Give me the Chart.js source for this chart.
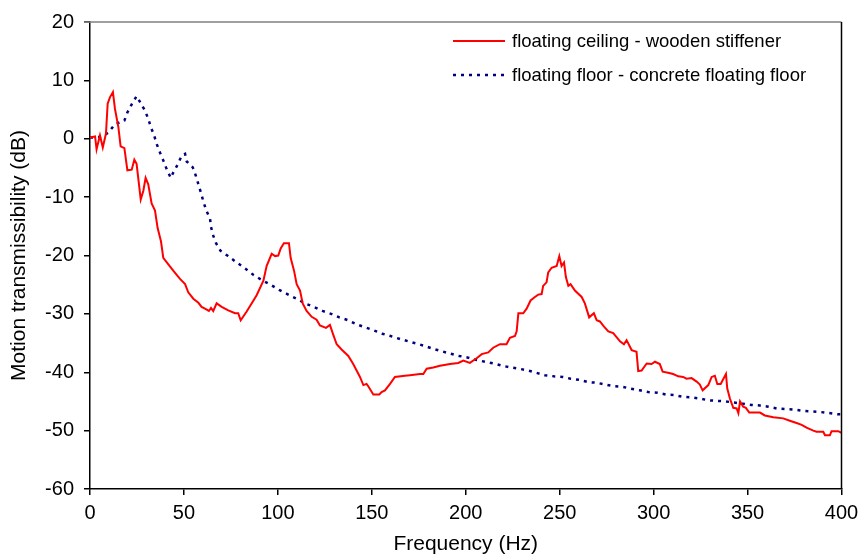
<!DOCTYPE html>
<html>
<head>
<meta charset="utf-8">
<script src="https://cdn.jsdelivr.net/npm/chart.js@4/dist/chart.umd.min.js"></script>
<style>
  html, body { margin: 0; padding: 0; background: #fff; }
  #wrap { width: 860px; height: 559px; }
</style>
</head>
<body>
<div id="wrap"><canvas id="c" width="860" height="559"></canvas></div>
<script>
// Floating ceiling (wooden stiffener): frequency (Hz) and transmissibility (dB)
const ceilingFreq = [0, 2.7, 3.5, 5.3, 6.8, 8.5, 9.4, 10.6, 12.2, 13.3, 15.1, 16.3, 18.3, 19.9, 22.2, 23.6, 24.8, 27.0, 28.4, 29.6,
  31.0, 32.8, 34.6, 36.0, 37.8, 39.0, 41.7, 44.3, 47.9, 50.6, 52.3, 55.0, 57.7, 59.4, 61.2, 63.3, 64.4, 65.6, 67.4, 70.1,
  73.6, 77.2, 78.9, 80.2, 83.4, 88.7, 92.3, 94.0, 96.7, 98.5, 100.2, 101.5, 103.2, 105.9, 106.8, 108.6, 110.0, 111.8, 113.2, 115.3,
  118.0, 120.6, 122.4, 125.6, 127.7, 129.5, 131.3, 133.9, 137.5, 140.1, 143.7, 145.5, 147.2, 148.1, 150.8, 154.0, 155.2, 157.0, 159.7, 162.3,
  167.6, 170.3, 175.6, 177.4, 179.2, 182.7, 186.3, 191.6, 196.0, 198.7, 202.2, 205.8, 208.5, 212.0, 214.6, 218.2, 221.7, 223.5, 226.2, 227.1,
  228.0, 230.6, 232.4, 234.5, 236.8, 238.6, 240.4, 241.2, 243.0, 243.9, 245.7, 248.4, 249.8, 251.0, 252.3, 253.3, 254.6, 255.8, 258.1, 261.7,
  263.4, 265.7, 268.2, 269.7, 271.4, 273.6, 275.9, 278.5, 282.1, 284.2, 285.6, 288.3, 290.9, 291.8, 293.6, 296.3, 298.9, 300.7, 303.3, 304.8,
  307.7, 310.4, 313.1, 315.7, 317.5, 320.2, 322.9, 324.6, 326.1, 329.1, 330.9, 332.6, 333.9, 335.7, 338.5, 339.2, 340.6, 342.4, 344.2, 345.1,
  346.0, 347.7, 349.1, 350.9, 356.6, 359.2, 363.7, 369.0, 372.5, 376.1, 378.8, 381.4, 385.0, 386.7, 390.3, 391.2, 393.8, 394.7, 398.3, 400];
const ceilingDb = [0.2, 0.4, -1.8, 0.6, -1.5, 0.9, 6.0, 7.1, 8.0, 5.1, 2.0, -1.3, -1.6, -5.4, -5.3, -3.6, -4.3, -10.4, -8.9, -6.7,
  -7.8, -11.1, -12.3, -15.3, -17.6, -20.4, -21.5, -22.6, -24.0, -24.9, -26.3, -27.4, -28.1, -28.8, -29.1, -29.5, -29.0, -29.5, -28.2, -28.8,
  -29.4, -29.9, -29.9, -31.1, -29.6, -26.8, -24.3, -21.8, -19.7, -20.1, -20.0, -18.8, -17.9, -17.9, -20.4, -22.6, -24.9, -26.0, -28.2, -29.5,
  -30.5, -31.0, -32.0, -32.4, -31.9, -33.6, -35.2, -36.1, -37.2, -38.6, -40.8, -42.2, -42.0, -42.4, -43.8, -43.8, -43.4, -43.1, -42.0, -40.8,
  -40.6, -40.5, -40.3, -40.3, -39.4, -39.2, -38.9, -38.6, -38.4, -38.0, -38.4, -37.6, -36.9, -36.6, -35.8, -35.2, -35.2, -34.1, -33.8, -33.0,
  -29.9, -29.9, -29.1, -27.7, -27.1, -26.7, -26.6, -25.2, -24.6, -22.9, -22.1, -21.8, -20.1, -21.8, -21.2, -23.7, -25.2, -24.9, -26.0, -27.1,
  -28.2, -30.6, -29.9, -31.1, -31.3, -32.2, -33.0, -33.3, -34.7, -35.2, -34.5, -36.2, -36.5, -39.8, -39.7, -38.5, -38.6, -38.2, -38.6, -39.9,
  -40.1, -40.3, -40.7, -40.8, -41.1, -41.0, -41.6, -42.1, -43.1, -42.2, -40.8, -40.6, -42.0, -42.0, -40.3, -42.8, -44.5, -46.1, -46.2, -47.0,
  -45.0, -45.9, -46.1, -46.9, -46.9, -47.4, -47.7, -47.9, -48.3, -48.7, -49.0, -49.5, -50.0, -50.2, -50.2, -50.8, -50.8, -50.1, -50.1, -50.4];

// Floating floor (concrete floating floor): frequency (Hz) and transmissibility (dB)
const floorFreq = [0, 5.3, 9.7, 13.3, 18.3, 19.9, 22.2, 24.8, 26.6, 29.3, 31.0, 32.5, 34.2, 35.5, 37.3, 39.0, 40.8, 43.0, 44.3, 46.7,
  48.8, 50.6, 51.5, 54.7, 56.3, 57.7, 59.0, 60.4, 61.9, 63.9, 64.4, 65.6, 67.1, 69.5, 73.5, 78.1, 82.5, 86.9, 91.4, 96.1,
  100.7, 105.5, 109.9, 114.4, 119.2, 123.8, 128.3, 132.7, 137.5, 141.9, 146.4, 150.8, 155.6, 160.0, 165.0, 169.4, 173.9, 178.3, 182.7, 187.2,
  191.6, 196.5, 201.3, 205.8, 210.2, 215.0, 219.6, 224.4, 228.4, 233.2, 237.7, 242.1, 246.9, 251.6, 255.8, 260.4, 265.2, 269.7, 274.1, 278.9,
  283.5, 287.8, 292.7, 297.1, 301.9, 306.4, 310.8, 315.4, 320.2, 324.6, 329.1, 333.9, 338.5, 342.9, 347.4, 352.2, 356.6, 361.0, 365.5, 369.9,
  374.7, 379.3, 384.1, 388.5, 393.5, 398.3, 400];
const floorDb = [0.2, 0.3, 1.0, 2.5, 3.1, 4.5, 5.9, 7.3, 6.3, 4.8, 3.4, 1.9, 0.5, -0.9, -2.4, -3.7, -5.2, -6.7, -5.8, -4.4,
  -2.9, -2.6, -3.9, -4.9, -6.3, -7.8, -9.2, -10.8, -12.3, -13.7, -15.1, -16.6, -17.9, -19.2, -20.1, -21.2, -22.2, -23.3, -24.2, -25.0,
  -25.9, -26.7, -27.4, -28.2, -28.8, -29.5, -30.0, -30.6, -31.1, -31.8, -32.3, -32.8, -33.4, -33.8, -34.3, -34.7, -35.1, -35.5, -36.0, -36.4,
  -36.8, -37.2, -37.5, -37.9, -38.2, -38.5, -38.9, -39.2, -39.4, -39.7, -40.1, -40.5, -40.7, -40.8, -41.1, -41.3, -41.7, -41.8, -42.1, -42.4,
  -42.5, -42.8, -43.1, -43.4, -43.5, -43.8, -43.9, -44.2, -44.3, -44.5, -44.8, -44.9, -45.0, -45.2, -45.4, -45.6, -45.7, -45.9, -46.2, -46.3,
  -46.4, -46.6, -46.7, -46.8, -47.0, -47.2, -47.2];

const seriesLabels = ['floating ceiling - wooden stiffener', 'floating floor - concrete floating floor'];
const xTitle = 'Frequency (Hz)';
const yTitle = 'Motion transmissibility (dB)';

const FONT = "'Liberation Sans', Arial, sans-serif";

const toPoints = (xs, ys) => xs.map((x, i) => ({ x, y: ys[i] }));

// Legend drawn inside the plot, top right, plus the top/right frame lines
const insideLegend = {
  id: 'insideLegend',
  afterDraw(chart) {
    const { ctx, chartArea } = chart;
    ctx.save();
    // frame
    ctx.lineWidth = 1.5;
    ctx.strokeStyle = '#808080';
    ctx.beginPath();
    ctx.moveTo(chartArea.left - 6, chartArea.top);
    ctx.lineTo(chartArea.right, chartArea.top);
    ctx.stroke();
    ctx.strokeStyle = '#000';
    ctx.beginPath();
    ctx.moveTo(chartArea.right, chartArea.top);
    ctx.lineTo(chartArea.right, chartArea.bottom);
    ctx.stroke();

    const x0 = 453, x1 = 505, tx = 512;
    const rows = [41, 75];
    chart.data.datasets.forEach((ds, i) => {
      const y = rows[i];
      ctx.strokeStyle = ds.borderColor;
      ctx.lineWidth = ds.borderWidth;
      ctx.setLineDash(ds.borderDash || []);
      ctx.lineCap = 'butt';
      ctx.beginPath();
      ctx.moveTo(x0, y);
      ctx.lineTo(x1, y);
      ctx.stroke();
      ctx.setLineDash([]);
      ctx.fillStyle = '#000';
      ctx.font = '18.5px ' + FONT;
      ctx.textBaseline = 'middle';
      ctx.textAlign = 'left';
      ctx.fillText(ds.label, tx, y + 1);
    });
    ctx.restore();
  }
};

new Chart(document.getElementById('c'), {
  type: 'line',
  data: {
    datasets: [
      {
        label: seriesLabels[0],
        data: toPoints(ceilingFreq, ceilingDb),
        borderColor: '#ff0000',
        borderWidth: 2,
        pointRadius: 0,
        tension: 0,
        fill: false
      },
      {
        label: seriesLabels[1],
        data: toPoints(floorFreq, floorDb),
        borderColor: '#000080',
        borderWidth: 2.5,
        borderDash: [3, 5],
        borderCapStyle: 'butt',
        pointRadius: 0,
        tension: 0,
        fill: false
      }
    ]
  },
  options: {
    responsive: false,
    animation: false,
    layout: { padding: { top: 13, right: 18.5, left: 0, bottom: 0 } },
    plugins: {
      legend: { display: false },
      tooltip: { enabled: false }
    },
    scales: {
      x: {
        type: 'linear',
        min: 0,
        max: 400,
        afterFit(scale) {
          scale.height = 70;
          scale.paddingLeft = 0;
          scale.paddingRight = 0;
        },
        ticks: {
          stepSize: 50,
          color: '#000',
          padding: 6,
          maxRotation: 0,
          font: { family: FONT, size: 20 }
        },
        grid: {
          drawOnChartArea: false,
          drawTicks: true,
          tickLength: 6,
          color: '#000',
          lineWidth: 1.5
        },
        border: { display: true, color: '#000', width: 1.5 },
        title: {
          display: true,
          text: xTitle,
          color: '#000',
          font: { family: FONT, size: 21 },
          padding: { top: 0, bottom: 2 }
        }
      },
      y: {
        type: 'linear',
        min: -60,
        max: 20,
        afterFit(scale) { scale.width = 90; },
        ticks: {
          stepSize: 10,
          color: '#000',
          padding: 10,
          font: { family: FONT, size: 20 }
        },
        grid: {
          drawOnChartArea: false,
          drawTicks: true,
          tickLength: 6,
          color: '#000',
          lineWidth: 1.5
        },
        border: { display: true, color: '#000', width: 1.5 },
        title: {
          display: true,
          text: yTitle,
          color: '#000',
          font: { family: FONT, size: 21 },
          padding: { top: 7, bottom: 0 }
        }
      }
    }
  },
  plugins: [insideLegend]
});
</script>
</body>
</html>
